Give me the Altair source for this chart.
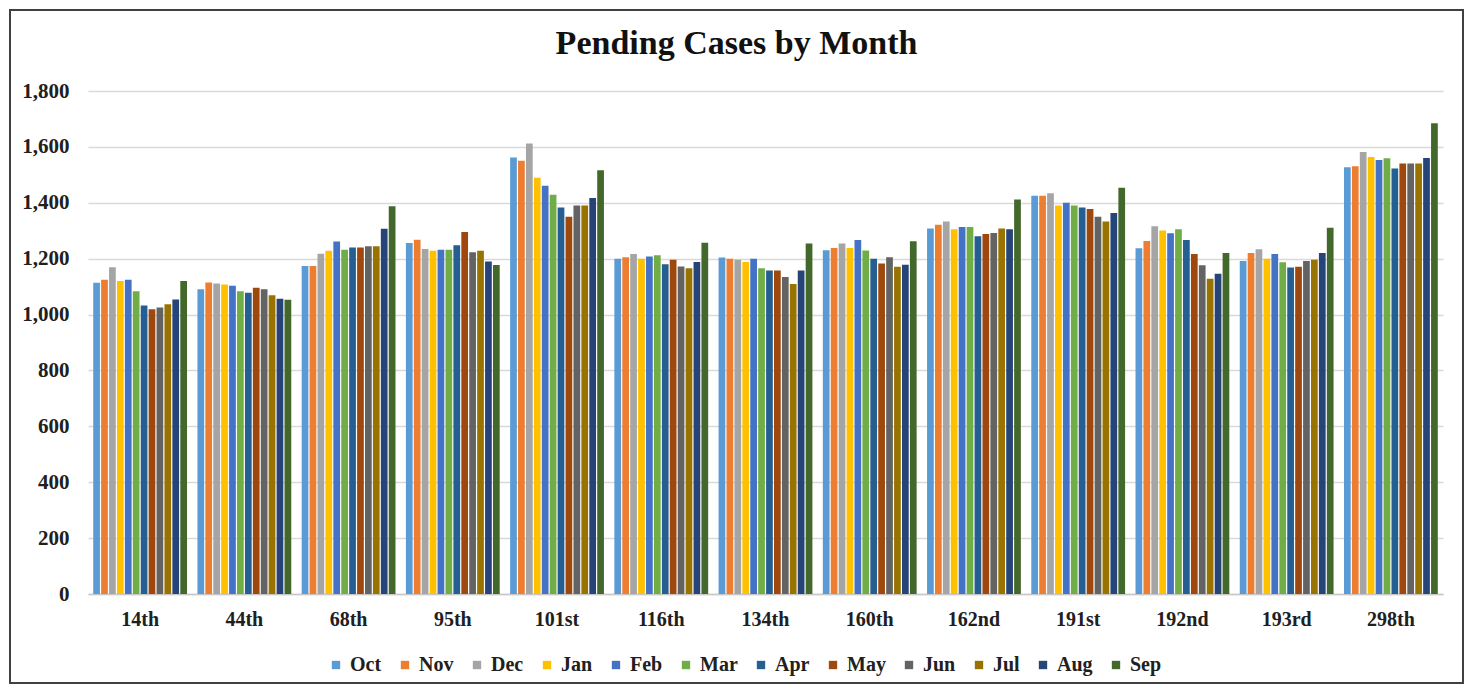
import altair as alt
import pandas as pd

units = ["14th", "44th", "68th", "95th", "101st", "116th", "134th",
         "160th", "162nd", "191st", "192nd", "193rd", "298th"]
months = ["Oct", "Nov", "Dec", "Jan", "Feb", "Mar", "Apr", "May",
          "Jun", "Jul", "Aug", "Sep"]
colors = ["#5B9BD5", "#ED7D31", "#A5A5A5", "#FFC000", "#4472C4", "#70AD47",
          "#255E91", "#9E480E", "#636363", "#997300", "#264478", "#43682B"]

v_14th = [1114, 1125, 1169, 1120, 1125, 1083, 1032, 1019, 1025, 1037, 1054, 1120]
v_44th = [1091, 1115, 1111, 1108, 1103, 1083, 1078, 1096, 1091, 1069, 1057, 1053]
v_68th = [1174, 1174, 1218, 1228, 1261, 1232, 1240, 1240, 1244, 1244, 1307, 1388]
v_95th = [1256, 1268, 1235, 1228, 1232, 1232, 1248, 1295, 1223, 1228, 1190, 1177]
v_101st = [1562, 1550, 1612, 1490, 1461, 1429, 1383, 1350, 1390, 1390, 1417, 1516]
v_116th = [1200, 1205, 1217, 1200, 1208, 1212, 1180, 1196, 1172, 1166, 1188, 1257]
v_134th = [1204, 1200, 1196, 1188, 1200, 1166, 1158, 1158, 1134, 1109, 1158, 1254]
v_160th = [1230, 1238, 1254, 1238, 1267, 1229, 1200, 1183, 1205, 1171, 1178, 1262]
v_162nd = [1308, 1321, 1333, 1305, 1313, 1313, 1280, 1288, 1292, 1308, 1305, 1412]
v_191st = [1425, 1425, 1434, 1390, 1400, 1390, 1383, 1378, 1350, 1333, 1363, 1454]
v_192nd = [1237, 1263, 1316, 1301, 1291, 1305, 1267, 1217, 1176, 1128, 1146, 1220]
v_193rd = [1192, 1220, 1234, 1200, 1217, 1187, 1168, 1171, 1192, 1196, 1220, 1311]
v_298th = [1527, 1531, 1582, 1564, 1553, 1559, 1523, 1541, 1541, 1541, 1560, 1685]

series = [v_14th, v_44th, v_68th, v_95th, v_101st, v_116th, v_134th,
          v_160th, v_162nd, v_191st, v_192nd, v_193rd, v_298th]

title_text = "Pending Cases by Month"

rows = []
for u, vals in zip(units, series):
    for m, v in zip(months, vals):
        rows.append({"unit": u, "month": m, "cases": v})
df = pd.DataFrame(rows)

FONT = "Liberation Serif"
W, H = 1355, 503

bars = alt.Chart(df).mark_bar().encode(
    x=alt.X("unit:N", sort=units, title=None,
            scale=alt.Scale(paddingInner=0.1, paddingOuter=0.05),
            axis=alt.Axis(labelAngle=0, ticks=False, labelPadding=15,
                          labelFont=FONT, labelFontSize=20, labelFontWeight="bold",
                          labelColor="#202020", domainColor="#c8c8c8", domainWidth=1.5,
                          grid=False)),
    xOffset=alt.XOffset("month:N", sort=months, scale=alt.Scale(paddingInner=0.15)),
    y=alt.Y("cases:Q", title=None,
            scale=alt.Scale(domain=[0, 1800], nice=False),
            axis=alt.Axis(values=list(range(0, 1801, 200)), format=",.0f",
                          ticks=False, domain=False, labelPadding=19,
                          labelFont=FONT, labelFontSize=21, labelFontWeight="bold",
                          labelColor="#202020", gridColor="#d9d9d9", gridWidth=1.5)),
    color=alt.Color("month:N", sort=months,
                    scale=alt.Scale(domain=months, range=colors),
                    legend=alt.Legend(title=None, orient="none", direction="horizontal",
                                      columns=12, legendX=238, legendY=564,
                                      symbolType="square", symbolSize=70,
                                      symbolStrokeWidth=0, columnPadding=13,
                                      labelOffset=4,
                                      labelFont=FONT, labelFontSize=20,
                                      labelFontWeight="bold", labelColor="#202020")),
)

one = pd.DataFrame({"a": [0]})

frame = alt.Chart(one).mark_rect(
    fill=None, stroke="#404040", strokeWidth=2
).encode(
    x=alt.value(-78), x2=alt.value(W + 20),
    y=alt.value(-81), y2=alt.value(H + 89),
)

title = alt.Chart(one).mark_text(
    font=FONT, fontSize=34, fontWeight="bold", color="#111111",
    align="center", baseline="middle"
).encode(
    x=alt.value(W / 2 - 29), y=alt.value(-47), text=alt.value(title_text)
)

chart = alt.layer(bars, frame, title).properties(
    width=W, height=H,
    autosize=alt.AutoSizeParams(type="none"),
    padding={"left": 80, "top": 83, "right": 22, "bottom": 92},
).configure_view(stroke=None)

chart.save("out.html", embed_options={"renderer": "svg", "actions": False})
